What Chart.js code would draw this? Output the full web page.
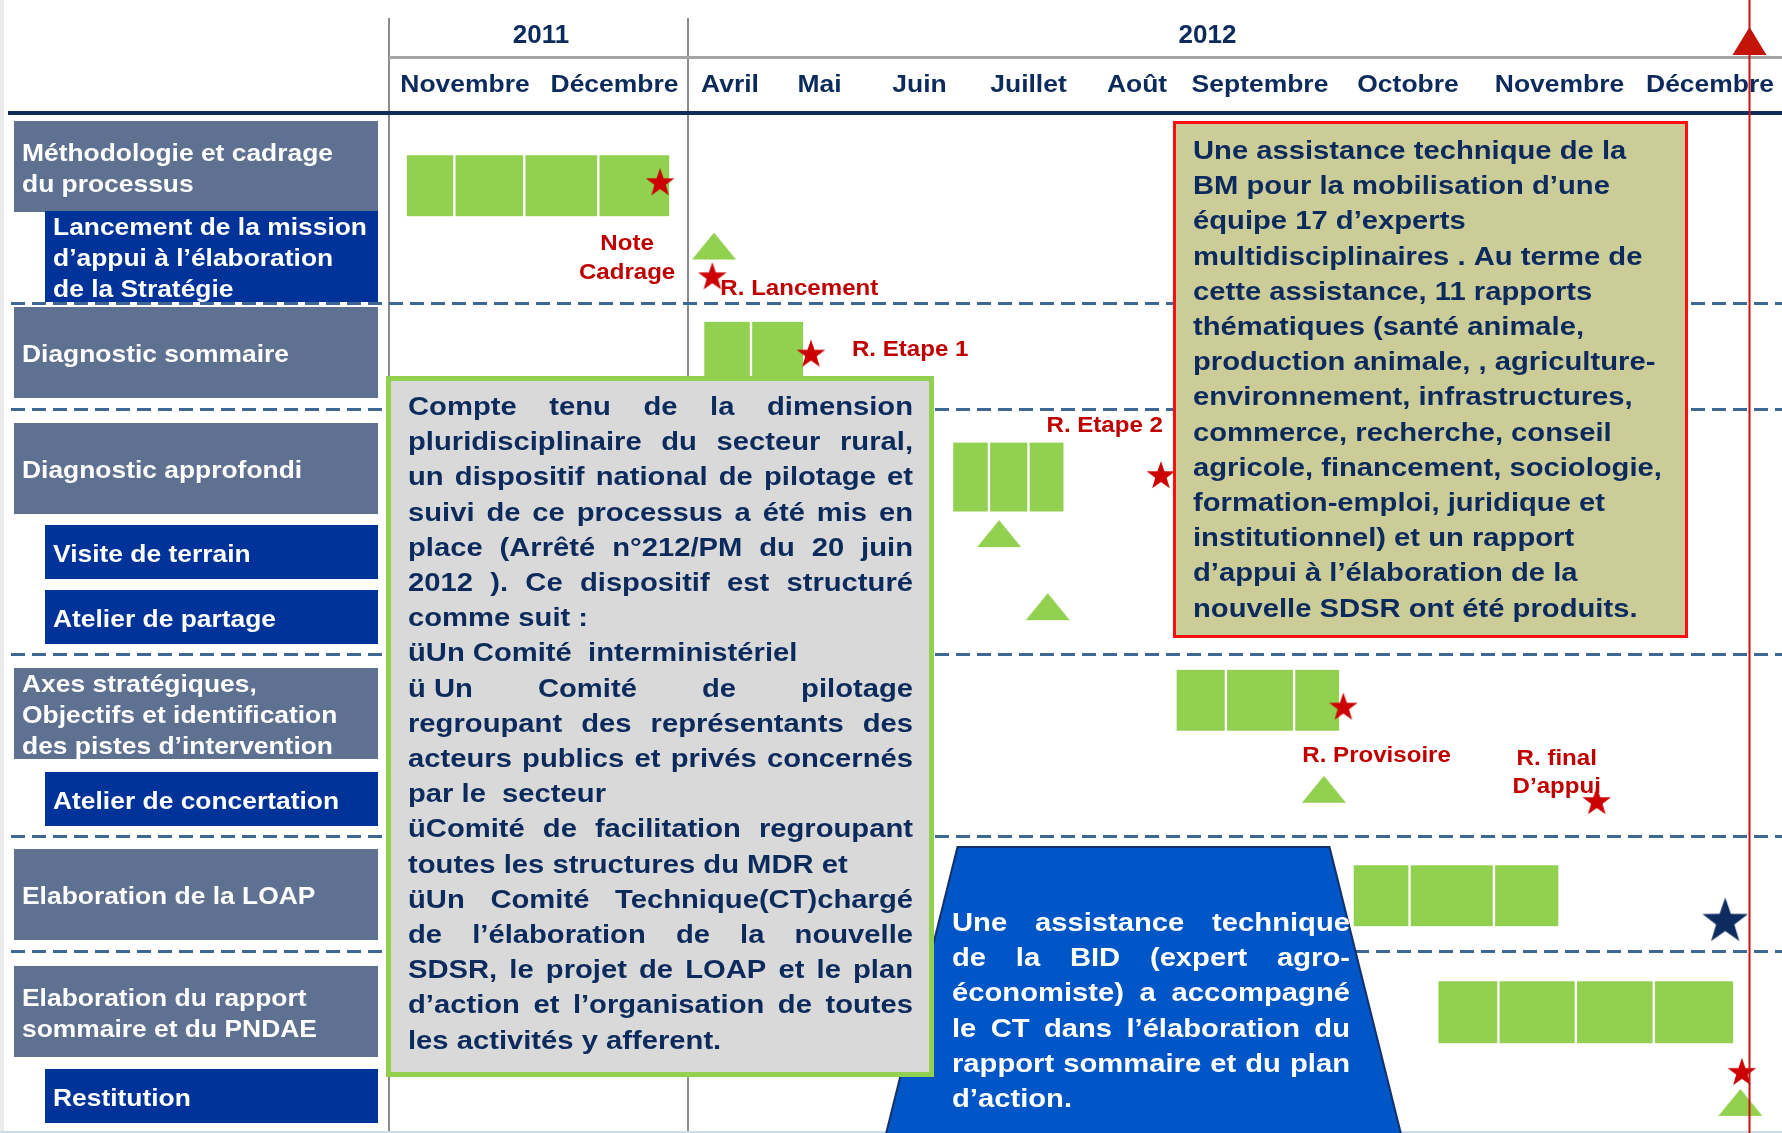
<!DOCTYPE html>
<html lang="fr">
<head>
<meta charset="utf-8">
<title>Chronogramme d'élaboration de la SDSR</title>
<script src="https://cdn.jsdelivr.net/npm/chart.js@4.4.1/dist/chart.umd.min.js"></script>
<style>
html,body{margin:0;padding:0;background:#ffffff;overflow:hidden;}
#wrap{position:relative;width:1782px;height:1133px;}
</style>
</head>
<body>
<div id="wrap"><canvas id="chart"></canvas></div>
<script>
// ================= DATA =================
// Time axis: month index (0 = start of Nov 2011, 2 = start of Apr 2012, ... 11 = end of Dec 2012)
const years = ['2011', '2012'];
const yearStartMonth = [0, 2];
const months = ['Novembre', 'Décembre', 'Avril', 'Mai', 'Juin', 'Juillet', 'Août',
                'Septembre', 'Octobre', 'Novembre', 'Décembre'];

// Row categories (lane index = position in this list)
const rowLabels = [
  'Méthodologie et cadrage\ndu processus',
  'Lancement de la mission\nd’appui à l’élaboration\nde la Stratégie',
  'Diagnostic sommaire',
  'Diagnostic approfondi',
  'Visite de terrain',
  'Atelier de partage',
  'Axes stratégiques,\nObjectifs et identification\ndes pistes d’intervention',
  'Atelier de concertation',
  'Elaboration de la LOAP',
  'Elaboration du rapport\nsommaire et du PNDAE',
  'Restitution'
];
const rowLevel = [1, 2, 1, 1, 2, 2, 1, 2, 1, 1, 2];

// Activities: lane (row units) and successive period boundaries (month units)
const taskNames = ['Méthodologie et cadrage', 'Diagnostic sommaire', 'Diagnostic approfondi',
                   'Axes stratégiques', 'Elaboration de la LOAP', 'Rapport sommaire et PNDAE'];
const taskLane = [0.72, 2.39, 3.53, 6.31, 8.40, 9.45];
const taskSegments = [
  [0.11, 0.43, 0.89, 1.39, 1.88],
  [2.18, 2.75, 3.34],
  [4.81, 5.15, 5.50, 5.82],
  [6.87, 7.26, 7.74, 8.06],
  [8.14, 8.51, 9.06, 9.50],
  [8.69, 9.09, 9.61, 10.13, 10.66]
];

// Reports (red stars)
const reportMonth = [1.81, 2.29, 3.41, 6.73, 8.08, 9.75, 10.71];
const reportLane  = [0.69, 1.69, 2.41, 3.52, 6.38, 7.39, 10.06];
const reportLabel = ['Note\nCadrage', 'R. Lancement', 'R. Etape 1', 'R. Etape 2',
                     'R. Provisoire', 'R. final\nD’appui', ''];
// Adoption (navy star)
const adoptionMonth = [10.60];
const adoptionLane  = [8.62];
// Workshops (green triangles)
const workshopMonth = [2.31, 5.24, 5.67, 7.95, 10.70];
const workshopLane  = [1.37, 4.14, 5.22, 7.23, 10.53];
// Current date marker
const todayMonth = 10.755;

// Annotation texts ([line, justified])
const noteGouvernance = [
  ['Compte tenu de la dimension', 1],
  ['pluridisciplinaire du secteur rural,', 1],
  ['un dispositif national de pilotage et', 1],
  ['suivi de ce processus a été mis en', 1],
  ['place (Arrêté n°212/PM du 20 juin', 1],
  ['2012 ). Ce dispositif est structuré', 1],
  ['comme suit :', 0],
  ['üUn Comité  interministériel', 0],
  ['ü\u00a0Un Comité de pilotage', 1],
  ['regroupant des représentants des', 1],
  ['acteurs publics et privés concernés', 1],
  ['par le  secteur', 0],
  ['üComité de facilitation regroupant', 1],
  ['toutes les structures du MDR et', 0],
  ['üUn Comité Technique(CT)chargé', 1],
  ['de l’élaboration de la nouvelle', 1],
  ['SDSR, le projet de LOAP et  le plan', 1],
  ['d’action et l’organisation de toutes', 1],
  ['les activités y afferent.', 0]
];
const noteBM = [
  'Une assistance technique de la',
  'BM pour la mobilisation d’une',
  'équipe 17 d’experts',
  'multidisciplinaires . Au terme de',
  'cette assistance, 11 rapports',
  'thématiques (santé animale,',
  'production animale, , agriculture-',
  'environnement, infrastructures,',
  'commerce, recherche, conseil',
  'agricole, financement, sociologie,',
  'formation-emploi, juridique et',
  'institutionnel) et un rapport',
  'd’appui à l’élaboration de la',
  'nouvelle SDSR ont été produits.'
];
const noteBID = [
  ['Une assistance technique', 1],
  ['de la BID (expert agro-', 1],
  ['économiste) a accompagné', 1],
  ['le CT dans l’élaboration du', 1],
  ['rapport sommaire et du plan', 1],
  ['d’action.', 0]
];

// ================= LAYOUT / STYLE =================
const W = 1782, H = 1133;
const X_STOPS = [389, 541, 688, 772, 867, 972, 1085, 1189, 1331, 1485, 1634, 1786];
const Y_STOPS = [121, 211, 307, 423, 525, 590, 668, 772, 849, 966, 1069, 1133];
const YEAR_LABEL_AT = [1, 7.13];
const TASK_THICKNESS = [61, 61, 69, 61, 61, 62];
const TEXT_DY = 2;
const REPORT_LABEL_POS = [
  {dx: -33, dy: 59, align: 'center'},
  {dx: 8, dy: 10, align: 'left'},
  {dx: 41, dy: -6, align: 'left'},
  {dx: 2, dy: -52, align: 'right'},
  {dx: -41, dy: 47, align: 'left'},
  {dx: -40, dy: -45, align: 'center'},
  null
];
const FONT = '"Liberation Sans", Arial, Helvetica, sans-serif';
const C = {
  navyText: '#0c2b5c', phase: '#5f7191', sub: '#003399', green: '#92d050',
  red: '#c00000', starRed: '#cc0000', starNavy: '#0d2b5e',
  khaki: '#cccc99', grayBox: '#d9d9d9', bid: '#0056c6', bidEdge: '#14306a',
  dash: '#3e6893', grid: '#8c8c8c', header: '#a6a6a6', rule: '#0f2d5c', today: '#cc1010'
};

// ---------- piecewise scale (non-uniform month / row widths) ----------
class PiecewiseScale extends Chart.LinearScale {
  _stops() { return this.axis === 'x' ? X_STOPS : Y_STOPS; }
  getPixelForValue(v) {
    if (v === null || v === undefined || isNaN(v)) return NaN;
    const s = this._stops();
    let i = Math.floor(v);
    if (i < 0) i = 0;
    if (i > s.length - 2) i = s.length - 2;
    const d = s[i] + (v - i) * (s[i + 1] - s[i]);
    return this.isHorizontal() ? this.left + d * (this.width / W) : this.top + d * (this.height / H);
  }
  getValueForPixel(p) {
    const s = this._stops();
    const d = this.isHorizontal() ? (p - this.left) * W / this.width : (p - this.top) * H / this.height;
    for (let i = 0; i < s.length - 1; i++) {
      if (d <= s[i + 1] || i === s.length - 2) return i + (d - s[i]) / (s[i + 1] - s[i]);
    }
    return 0;
  }
}
PiecewiseScale.id = 'piecewise';
PiecewiseScale.defaults = {};
Chart.register(PiecewiseScale);

// ---------- marker images ----------
function starImage(R, color) {
  const size = 2 * Math.ceil(R) + 2;
  const c = document.createElement('canvas');
  c.width = c.height = size;
  const g = c.getContext('2d');
  const cx = size / 2, cy = size / 2, r = R * 0.4;
  g.fillStyle = color;
  g.beginPath();
  for (let k = 0; k < 10; k++) {
    const a = -Math.PI / 2 + k * Math.PI / 5;
    const rr = k % 2 ? r : R;
    g.lineTo(cx + rr * Math.cos(a), cy + rr * Math.sin(a));
  }
  g.closePath();
  g.fill();
  return c;
}
function triangleImage(w, h, color) {
  const c = document.createElement('canvas');
  c.width = w; c.height = h + 1;
  const g = c.getContext('2d');
  g.fillStyle = color;
  g.beginPath(); g.moveTo(w / 2, 0); g.lineTo(w, h); g.lineTo(0, h); g.closePath(); g.fill();
  return c;
}

// ---------- text helpers ----------
function fnt(size) { return 'bold ' + size + 'px ' + FONT; }
function drawText(ctx, s, x, y, size, color, align, sx) {
  ctx.save();
  ctx.font = fnt(size);
  ctx.fillStyle = color;
  ctx.textAlign = align || 'left';
  ctx.textBaseline = 'middle';
  ctx.translate(x, y + TEXT_DY);
  ctx.scale(sx || 1, 1);
  ctx.fillText(s, 0, 0);
  ctx.restore();
}
function drawJustified(ctx, s, x0, x1, y, size, color, sx) {
  const words = s.split(' ').filter(w => w.length);
  ctx.save();
  ctx.font = fnt(size);
  const ws = words.map(w => ctx.measureText(w).width * sx);
  ctx.restore();
  const total = ws.reduce((a, b) => a + b, 0);
  const gap = words.length > 1 ? (x1 - x0 - total) / (words.length - 1) : 0;
  let x = x0;
  words.forEach((w, i) => { drawText(ctx, w, x, y, size, color, 'left', sx); x += ws[i] + gap; });
}
function boxHeight(r) {
  const n = rowLabels[r].split('\n').length;
  return (rowLevel[r] === 1 || n > 1) ? 91 : 54;
}

// ---------- decoration plugin ----------
const ganttDecor = {
  id: 'ganttDecor',
  beforeDatasetsDraw(chart) {
    const ctx = chart.ctx, xs = chart.scales.x, ys = chart.scales.y;
    const px = v => xs.getPixelForValue(v), py = v => ys.getPixelForValue(v);
    ctx.save();
    ctx.fillStyle = '#ffffff'; ctx.fillRect(0, 0, W, H);
    ctx.fillStyle = '#ececec'; ctx.fillRect(0, 0, 4, H);
    // year boundaries
    ctx.strokeStyle = C.grid; ctx.lineWidth = 2;
    yearStartMonth.forEach(m => {
      const x = Math.round(px(m));
      ctx.beginPath(); ctx.moveTo(x, 18); ctx.lineTo(x, H); ctx.stroke();
    });
    // header rules
    ctx.strokeStyle = C.header; ctx.lineWidth = 3;
    ctx.beginPath(); ctx.moveTo(px(0), 57.5); ctx.lineTo(W, 57.5); ctx.stroke();
    ctx.fillStyle = C.rule; ctx.fillRect(8, 111, W - 8, 4);
    ctx.fillStyle = '#d0dbe8'; ctx.fillRect(0, H - 2, W, 2);
    // header labels
    years.forEach((y, i) => drawText(ctx, y, px(YEAR_LABEL_AT[i]), 34, 26, C.navyText, 'center', 1));
    months.forEach((m, i) => drawText(ctx, m, px(i + 0.5), 83, 24.5, C.navyText, 'center', 1.08));
    // row label boxes
    rowLabels.forEach((lab, r) => {
      const lines = lab.split('\n');
      const top = py(r), h = boxHeight(r);
      const left = rowLevel[r] === 1 ? 14 : 45, right = 378;
      ctx.fillStyle = rowLevel[r] === 1 ? C.phase : C.sub;
      ctx.fillRect(left, top, right - left, h);
      const cy = top + h / 2 + 1;
      lines.forEach((ln, k) => drawText(ctx, ln, left + 8, cy + (k - (lines.length - 1) / 2) * 31, 24, '#ffffff', 'left', 1.1));
    });
    // group separators
    ctx.setLineDash([14, 7]); ctx.strokeStyle = C.dash; ctx.lineWidth = 3;
    rowLabels.forEach((lab, r) => {
      if (r === 0 || rowLevel[r] !== 1) return;
      const prevBottom = py(r - 1) + boxHeight(r - 1);
      const y = Math.round((prevBottom + py(r)) / 2 - 2) + 0.5;
      ctx.beginPath(); ctx.moveTo(11, y); ctx.lineTo(W, y); ctx.stroke();
    });
    ctx.setLineDash([]);
    ctx.restore();
  },
  afterDatasetsDraw(chart) {
    const ctx = chart.ctx, xs = chart.scales.x, ys = chart.scales.y;
    const px = v => xs.getPixelForValue(v), py = v => ys.getPixelForValue(v);
    const LH = 35.2, TS = 25.5, SX = 1.145;
    ctx.save();
    // BID trapezoid
    ctx.beginPath();
    ctx.moveTo(957.5, 847); ctx.lineTo(1329.5, 847); ctx.lineTo(1405, 1150); ctx.lineTo(882, 1150); ctx.closePath();
    ctx.fillStyle = C.bid; ctx.fill();
    ctx.strokeStyle = C.bidEdge; ctx.lineWidth = 2; ctx.stroke();
    noteBID.forEach(([t, j], i) => {
      const y = 922 + i * LH;
      if (j) drawJustified(ctx, t, 952, 1350, y, TS, '#ffffff', SX);
      else drawText(ctx, t, 952, y, TS, '#ffffff', 'left', SX);
    });
    // governance box
    ctx.fillStyle = C.grayBox; ctx.fillRect(386, 376, 548, 701);
    ctx.strokeStyle = C.green; ctx.lineWidth = 5; ctx.strokeRect(388.5, 378.5, 543, 696);
    noteGouvernance.forEach(([t, j], i) => {
      const y = 406 + i * LH;
      if (j) drawJustified(ctx, t, 408, 913, y, TS, C.navyText, SX);
      else drawText(ctx, t, 408, y, TS, C.navyText, 'left', SX);
    });
    // BM box
    ctx.fillStyle = C.khaki; ctx.fillRect(1173, 121, 515, 517);
    ctx.strokeStyle = '#ff1010'; ctx.lineWidth = 3; ctx.strokeRect(1174.5, 122.5, 512, 514);
    noteBM.forEach((t, i) => drawText(ctx, t, 1193, 150 + i * LH, TS, C.navyText, 'left', SX));
    // report labels
    reportLabel.forEach((lab, i) => {
      const pos = REPORT_LABEL_POS[i];
      if (!lab || !pos) return;
      const x = px(reportMonth[i]) + pos.dx, y0 = py(reportLane[i]) + pos.dy;
      lab.split('\n').forEach((ln, k) => drawText(ctx, ln, x, y0 + k * 28.5, 21.5, C.red, pos.align, 1.12));
    });
    // today line
    const tx = Math.round(px(todayMonth)) + 0.5;
    ctx.strokeStyle = C.today; ctx.lineWidth = 2;
    ctx.beginPath(); ctx.moveTo(tx, 0); ctx.lineTo(tx, H); ctx.stroke();
    ctx.fillStyle = '#c4140a';
    ctx.beginPath(); ctx.moveTo(tx, 27); ctx.lineTo(tx + 17, 55); ctx.lineTo(tx - 17, 55); ctx.closePath(); ctx.fill();
    ctx.restore();
  }
};

// ---------- datasets ----------
const barDatasets = taskNames.map((name, t) => ({
  type: 'bar',
  label: name,
  indexAxis: 'y',
  stack: 'activities',
  data: taskSegments[t].slice(0, -1).map((b, k) => ({ x: [b, taskSegments[t][k + 1]], y: taskLane[t] })),
  backgroundColor: C.green,
  borderColor: '#ffffff',
  borderWidth: { left: 1.5, right: 1.5, top: 0, bottom: 0 },
  borderSkipped: false,
  barThickness: TASK_THICKNESS[t],
  xAxisID: 'x', yAxisID: 'y',
  order: 2
}));

const markerDatasets = [
  {
    type: 'scatter', label: 'Rapports',
    data: reportMonth.map((m, i) => ({ x: m, y: reportLane[i] })),
    pointStyle: starImage(15, C.starRed), pointRadius: 4, pointHoverRadius: 4,
    xAxisID: 'x', yAxisID: 'y', order: 1
  },
  {
    type: 'scatter', label: 'Adoption',
    data: adoptionMonth.map((m, i) => ({ x: m, y: adoptionLane[i] })),
    pointStyle: starImage(24, C.starNavy), pointRadius: 4, pointHoverRadius: 4,
    xAxisID: 'x', yAxisID: 'y', order: 1
  },
  {
    type: 'scatter', label: 'Ateliers',
    data: workshopMonth.map((m, i) => ({ x: m, y: workshopLane[i] })),
    pointStyle: triangleImage(44, 27, C.green), pointRadius: 4, pointHoverRadius: 4,
    xAxisID: 'x', yAxisID: 'y', order: 1
  }
];

new Chart(document.getElementById('chart'), {
  type: 'scatter',
  data: { datasets: [...barDatasets, ...markerDatasets] },
  options: {
    responsive: true,
    maintainAspectRatio: false,
    devicePixelRatio: 1,
    animation: false,
    events: [],
    layout: { padding: 0, autoPadding: false },
    plugins: { legend: { display: false }, tooltip: { enabled: false }, title: { display: false } },
    scales: {
      x: { type: 'piecewise', position: 'bottom', min: 0, max: 11, display: false, stacked: false },
      y: { type: 'piecewise', position: 'left', min: 0, max: 11, display: false }
    }
  },
  plugins: [ganttDecor]
});
</script>
</body>
</html>
